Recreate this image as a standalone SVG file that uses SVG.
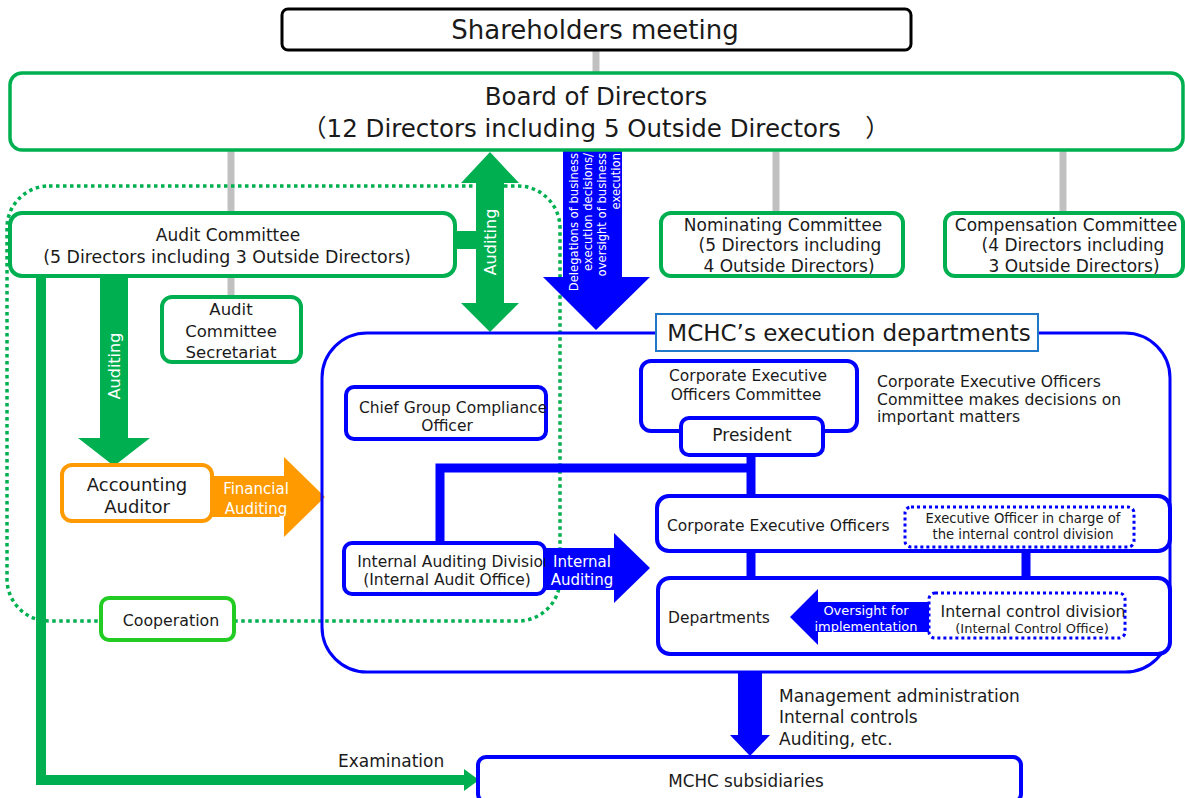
<svg xmlns="http://www.w3.org/2000/svg" width="1185" height="798" viewBox="0 0 1185 798">
<style>
text{font-family:"DejaVu Sans","Noto Sans CJK JP",sans-serif;fill:#1a1a1a}
.c{text-anchor:middle}
.w{fill:#fff}
.gray{stroke:#c0c0c0;stroke-width:7;fill:none}
.gbox{fill:#fff;stroke:#00b050;stroke-width:4}
.bbox{fill:#fff;stroke:#0000ff;stroke-width:4}
.bdot{fill:#fff;stroke:#0000ff;stroke-width:3;stroke-dasharray:3 3}
.bline{stroke:#0000ff;stroke-width:9;fill:none}
</style>
<rect width="1185" height="798" fill="#fff"/>
<g id="connectors">
  <line class="gray" x1="596" y1="50" x2="596" y2="73"/>
  <line class="gray" x1="231" y1="150" x2="231" y2="213"/>
  <line class="gray" x1="231" y1="276" x2="231" y2="297"/>
  <line class="gray" x1="776" y1="150" x2="776" y2="213"/>
  <line class="gray" x1="1063" y1="150" x2="1063" y2="213"/>
  <rect x="7" y="186" width="553" height="435" rx="42" fill="none" stroke="#00b050" stroke-width="3.5" stroke-dasharray="3.5 3.5"/>
  <!-- examination line -->
  <path d="M41,276 V780 H466" fill="none" stroke="#00b050" stroke-width="10"/>
  <polygon points="464,769 479,780 464,791" fill="#00b050"/>
  <!-- auditing down arrow -->
  <polygon points="100,278 128,278 128,438 150,438 114,466 78,438 100,438" fill="#00b050"/>
  <text class="c w" x="0" y="0" font-size="16" transform="translate(120,366) rotate(-90)">Auditing</text>
  <!-- auditing double arrow -->
  <rect x="454" y="231" width="24" height="18" fill="#00b050"/>
  <polygon points="490,152 519,183 504,183 504,303 519,303 490,332 461,303 476,303 476,183 461,183" fill="#00b050"/>
  <text class="c w" x="0" y="0" font-size="16" transform="translate(496,242) rotate(-90)">Auditing</text>
  <!-- delegation arrow -->
  <polygon points="563,150 622,150 622,277 650,277 596,330 543,277 563,277" fill="#0000ff"/>
  <g font-size="11.6" transform="rotate(-90)">
    <text class="w" x="-153" y="578" text-anchor="end">Delegations of business</text>
    <text class="w" x="-153" y="592" text-anchor="end">execution decisions/</text>
    <text class="w" x="-153" y="606" text-anchor="end">oversight of business</text>
    <text class="w" x="-153" y="620" text-anchor="end">execution</text>
  </g>
  <!-- financial auditing -->
  <polygon points="212,476 284,476 284,457 325,497 284,537 284,517 212,517" fill="#ff9a00"/>
  <text class="c w" x="256" y="494" font-size="15">Financial</text>
  <text class="c w" x="256" y="514" font-size="15">Auditing</text>
  <!-- blue connector lines -->
  <path class="bline" d="M440,543 V468 H751 M751,455 V496 M751,550 V578 M1026,544 V593"/>
  <!-- down to subsidiaries -->
  <polygon points="738,672 762,672 762,735 770,735 750,756 730,735 738,735" fill="#0000ff"/>
</g>
<g id="shareholders">
  <rect x="282" y="9" width="629" height="41" rx="6" fill="#fff" stroke="#000" stroke-width="3"/>
  <text class="c" x="595" y="39" font-size="26">Shareholders  meeting</text>
</g>
<g id="board">
  <rect x="10" y="73" width="1173" height="77" rx="12" fill="#fff" stroke="#00b050" stroke-width="3.5"/>
  <text class="c" x="596" y="105" font-size="24.5">Board of Directors</text>
  <text class="c" x="596" y="137" font-size="24.5">（12 Directors including 5 Outside Directors　）</text>
</g>
<g id="audit-committee">
  <rect class="gbox" x="10" y="213" width="445" height="63" rx="12"/>
  <text class="c" x="228" y="241" font-size="17">Audit Committee</text>
  <text class="c" x="227" y="263" font-size="17.4">(5 Directors including 3 Outside Directors)</text>
</g>
<g id="secretariat">
  <rect class="gbox" x="162" y="297" width="139" height="65" rx="10"/>
  <text class="c" x="231" y="315" font-size="16.5">Audit</text>
  <text class="c" x="231" y="337" font-size="16.5">Committee</text>
  <text class="c" x="231" y="358" font-size="16.5">Secretariat</text>
</g>
<g id="nominating">
  <rect class="gbox" x="661" y="213" width="242" height="63" rx="10"/>
  <text class="c" x="783" y="231" font-size="17">Nominating Committee</text>
  <text class="c" x="790" y="251" font-size="17">(5 Directors including</text>
  <text class="c" x="789" y="272" font-size="17">4 Outside Directors)</text>
</g>
<g id="compensation">
  <rect class="gbox" x="945" y="213" width="238" height="63" rx="10"/>
  <text class="c" x="1066" y="231" font-size="17">Compensation Committee</text>
  <text class="c" x="1073" y="251" font-size="17">(4 Directors including</text>
  <text class="c" x="1074" y="272" font-size="17">3 Outside Directors)</text>
</g>
<g id="accounting-auditor">
  <rect x="62" y="465" width="150" height="56" rx="10" fill="#fff" stroke="#ff9a00" stroke-width="4"/>
  <text class="c" x="137" y="491" font-size="18">Accounting</text>
  <text class="c" x="137" y="513" font-size="18">Auditor</text>
</g>
<g id="cooperation">
  <rect x="101" y="598" width="133" height="42" rx="8" fill="#fff" stroke="#22cc22" stroke-width="4"/>
  <text class="c" x="171" y="626" font-size="15.8">Cooperation</text>
</g>
<g id="execution-departments">
  <rect x="322" y="333" width="848" height="339" rx="45" fill="none" stroke="#0000ff" stroke-width="3"/>
  <rect x="656" y="314" width="382" height="37" fill="#fff" stroke="#1f78c8" stroke-width="2"/>
  <text class="c" x="849" y="341" font-size="23">MCHC’s execution departments</text>
</g>
<g id="compliance-officer">
  <rect class="bbox" x="346" y="387" width="200" height="52" rx="8"/>
  <text class="c" x="453" y="413" font-size="15.5">Chief Group Compliance</text>
  <text class="c" x="447" y="431" font-size="15.5">Officer</text>
</g>
<g id="ceo-committee">
  <rect class="bbox" x="641" y="361" width="216" height="70" rx="10"/>
  <text class="c" x="748" y="381" font-size="15.5">Corporate Executive</text>
  <text class="c" x="746" y="400" font-size="15.5">Officers Committee</text>
</g>
<g id="president">
  <rect class="bbox" x="681" y="418" width="142" height="37" rx="8"/>
  <text class="c" x="752" y="441" font-size="17">President</text>
</g>
<g id="ceo-note">
  <text x="877" y="387" font-size="15.6">Corporate Executive Officers</text>
  <text x="877" y="405" font-size="15.6">Committee makes decisions on</text>
  <text x="877" y="422" font-size="15.6">important matters</text>
</g>
<g id="corporate-executive-officers">
  <rect class="bbox" x="657" y="496" width="513" height="55" rx="12"/>
  <text x="667" y="531" font-size="15.5">Corporate Executive Officers</text>
  <rect class="bdot" x="905" y="507" width="229" height="40" rx="6"/>
  <text class="c" x="1023" y="523" font-size="13.2">Executive Officer in charge of</text>
  <text class="c" x="1023" y="539" font-size="13.2">the internal control division</text>
</g>
<g id="departments">
  <rect class="bbox" x="658" y="578" width="512" height="76" rx="12"/>
  <text x="668" y="623" font-size="15.5">Departments</text>
  <rect class="bdot" x="929" y="593" width="196" height="45" rx="6"/>
  <text class="c" x="1033" y="617" font-size="15.7">Internal control division</text>
  <text class="c" x="1032" y="633" font-size="13">(Internal Control Office)</text>
  <polygon points="929,602 818,602 818,589 790,617 818,645 818,632 929,632" fill="#0000ff"/>
  <text class="c w" x="866" y="615" font-size="13">Oversight for</text>
  <text class="c w" x="866" y="631" font-size="13">implementation</text>
</g>
<g id="internal-auditing">
  <rect class="bbox" x="344" y="543" width="201" height="51" rx="8"/>
  <text class="c" x="455" y="567" font-size="15.5">Internal Auditing Division</text>
  <text class="c" x="447" y="585" font-size="15.5">(Internal Audit Office)</text>
  <polygon points="545,548 614,548 614,533 650,568 614,603 614,590 545,590" fill="#0000ff"/>
  <text class="c w" x="582" y="567" font-size="15">Internal</text>
  <text class="c w" x="582" y="585" font-size="15">Auditing</text>
</g>
<g id="subsidiaries">
  <rect class="bbox" x="478" y="757" width="543" height="45" rx="8"/>
  <text class="c" x="746" y="787" font-size="16.8">MCHC subsidiaries</text>
</g>
<g id="labels">
  <text x="779" y="702" font-size="17">Management administration</text>
  <text x="779" y="723" font-size="17">Internal controls</text>
  <text x="779" y="745" font-size="17">Auditing, etc.</text>
  <text x="338" y="767" font-size="17">Examination</text>
</g>
</svg>
